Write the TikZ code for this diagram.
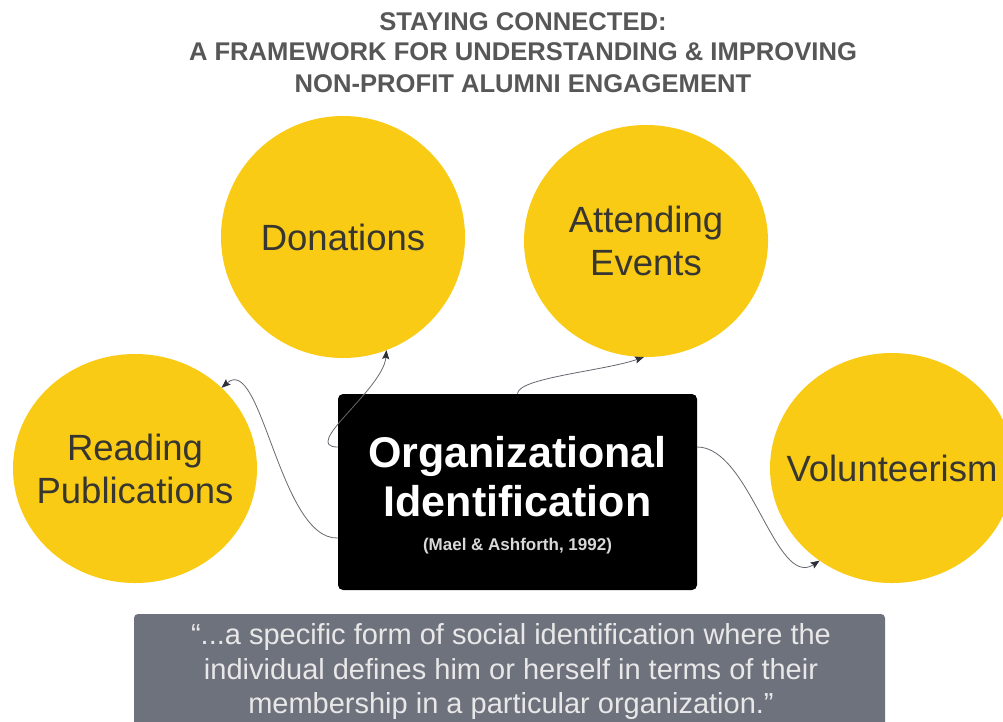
\documentclass[tikz,border=0pt]{standalone}
\usepackage{fontspec}
\setmainfont{Liberation Sans}
\usetikzlibrary{shapes.geometric,arrows.meta}

\definecolor{bubble}{HTML}{F9CB14}
\definecolor{bubbletext}{HTML}{383631}
\definecolor{titlegray}{HTML}{575757}
\definecolor{quotefill}{HTML}{6E727D}
\definecolor{quotetext}{HTML}{E8E8E8}
\definecolor{citegray}{HTML}{D8D8D8}
\definecolor{linkgray}{HTML}{666870}
\definecolor{tipgray}{HTML}{2E3038}

\tikzset{
  bubblenode/.style={ellipse, fill=bubble, draw=none, inner sep=0pt, outer sep=0pt,
    minimum width=244pt},
  bubblelabel/.style={align=center, text=bubbletext, inner sep=0pt,
    font=\fontsize{36.5}{43}\selectfont},
  titleline/.style={anchor=base, text=titlegray, inner sep=0pt,
    font=\fontsize{25.6}{30}\selectfont\bfseries},
  orgbox/.style={rectangle, fill=black, rounded corners=5pt, inner sep=0pt,
    minimum width=359pt, minimum height=196pt},
  orgline/.style={anchor=base, text=white, inner sep=0pt,
    font=\fontsize{43}{50}\selectfont\bfseries},
  citeline/.style={anchor=base, text=citegray, inner sep=0pt,
    font=\fontsize{17}{20}\selectfont\bfseries},
  quotebox/.style={rectangle, fill=quotefill, rounded corners=4pt, inner sep=0pt,
    minimum width=751pt, minimum height=146pt},
  quotetextstyle/.style={align=center, text=quotetext, inner sep=0pt,
    font=\fontsize{29}{34.5}\selectfont},
  link/.style={draw=linkgray, line width=0.8pt,
    -{Stealth[length=9pt,width=7pt,inset=1.5pt,fill=tipgray,color=tipgray]}}
}

\begin{document}
\begin{tikzpicture}[x=1pt,y=-1pt]
  \useasboundingbox (0,0) rectangle (1003,721);
  \clip (0,0) rectangle (1003,721);
  \fill[white] (0,0) rectangle (1003,721);

  % title
  \node[titleline] (t1) at (523,30) {STAYING CONNECTED:};
  \node[titleline] (t2) at (523,60) {A FRAMEWORK FOR UNDERSTANDING \& IMPROVING};
  \node[titleline] (t3) at (523,92) {NON-PROFIT ALUMNI ENGAGEMENT};

  % engagement bubbles
  \node[bubblenode, minimum height=242pt] (don) at (343,237) {};
  \node[bubblelabel] (dontext) at (don.center) {Donations};
  \node[bubblenode, minimum height=232pt] (att) at (646,241) {};
  \node[bubblelabel] (atttext) at (att.center) {Attending\\Events};
  \node[bubblenode, minimum height=229pt] (pub) at (135,468.5) {};
  \node[bubblelabel] (pubtext) at (pub.center) {Reading\\Publications};
  \node[bubblenode, minimum height=230pt] (vol) at (892,468) {};
  \node[bubblelabel] (voltext) at (vol.center) {Volunteerism};

  % central concept
  \node[orgbox] (org) at (517.5,492) {};
  \node[orgline] (org1) at (517.5,467) {Organizational};
  \node[orgline] (org2) at (517.5,516) {Identification};
  \node[citeline] (org3) at (517.5,550) {(Mael \& Ashforth, 1992)};

  % definition
  \node[quotebox] (quote) at (509.5,687) {};
  \node[quotetextstyle] (quotetxt) at (511,671.5)
    {“...a specific form of social identification where the\\
     individual defines him or herself in terms of their\\
     membership in a particular organization.”};

  % connectors
  \draw[link] ([yshift=-46pt]org.west) .. controls +(-58,2) and +(40,-35) .. (pub.43);
  \draw[link] ([yshift=45pt]org.west) .. controls +(-38,0) and +(-3,39) .. (don.-69.6);
  \draw[link] (org.north) .. controls +(0,-16) and +(-40,14) .. (att.-91);
  \draw[link] ([yshift=45pt]org.east) .. controls +(53,0) and +(-44,29) .. (vol.-128);
\end{tikzpicture}
\end{document}
